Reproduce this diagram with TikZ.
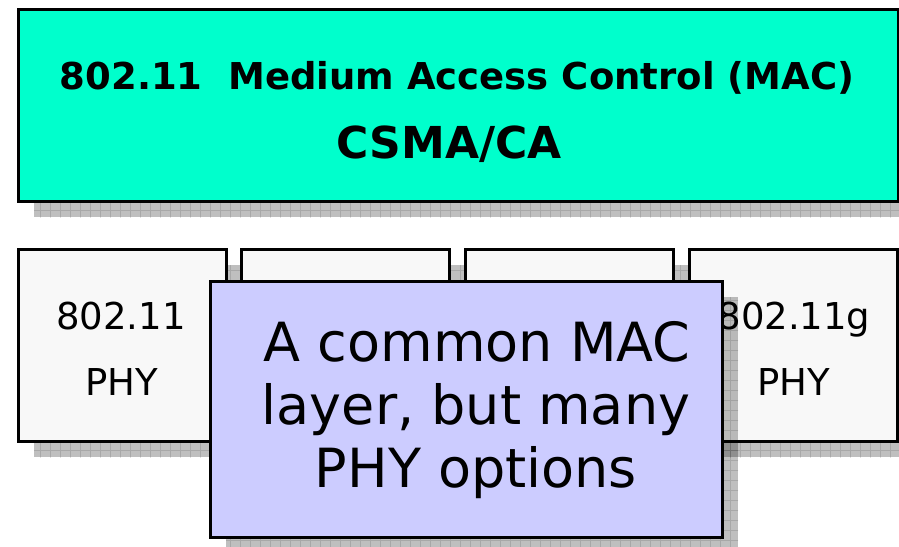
\documentclass[tikz,border=0pt]{standalone}
\usepackage{fontspec}
\setmainfont{DejaVu Sans}
\usetikzlibrary{calc}
\definecolor{macfill}{HTML}{00FFCC}
\definecolor{phyfill}{HTML}{F8F8F8}
\definecolor{notefill}{HTML}{CCCCFF}
\tikzset{
  box/.style={draw=black, line width=3pt, anchor=north west, inner sep=0pt, outer sep=0pt},
  phybox/.style={box, fill=phyfill, minimum width=208pt, minimum height=192pt},
  lbl/.style={anchor=base, inner sep=0pt},
}
% drop shadow with a fine grid texture, offset 16 right and 16 down
\newcommand{\gridshadow}[1]{%
  \begin{scope}
    \path[fill=black, fill opacity=0.25]
      ($(#1.north west)+(16,16)$) rectangle ($(#1.south east)+(16,16)$);
    \clip ($(#1.north west)+(16,16)$) rectangle ($(#1.south east)+(16,16)$);
    \draw[black, opacity=0.12, line width=0.8pt, step=10pt]
      ($(#1.north west)+(6,6)$) grid ($(#1.south east)+(26,26)$);
  \end{scope}}
\begin{document}
\begin{tikzpicture}[x=1pt, y=-1pt]
\useasboundingbox (0,0) rectangle (899,546);
\clip (0,0) rectangle (899,546);

% MAC layer
\path (18,9) node[box, minimum width=880pt, minimum height=192pt, draw=none] (mac) {};
\gridshadow{mac}
\node[box, fill=macfill, minimum width=880pt, minimum height=192pt] at (18,9) (macbox) {};
\node[lbl, font=\bfseries\fontsize{37}{44}\selectfont] (t1) at (457,89) {802.11\ \ Medium Access Control (MAC)};
\node[lbl, font=\bfseries\fontsize{44}{52}\selectfont] (t2) at (449,158) {CSMA/CA};

% PHY layers
\foreach \n/\x in {p1/18, p2/241, p3/465, p4/689} {
  \path (\x,249) node[phybox, draw=none, fill=none] (\n) {};
  \gridshadow{\n}
  \node[phybox] at (\x,249) (\n box) {};
}
\node[lbl, font=\fontsize{37}{44}\selectfont] (p1a) at (121,329) {802.11};
\node[lbl, font=\fontsize{37}{44}\selectfont] (p1b) at (122,395) {PHY};
\node[lbl, font=\fontsize{37}{44}\selectfont] (p4a) at (794,329) {802.11g};
\node[lbl, font=\fontsize{37}{44}\selectfont] (p4b) at (794,395) {PHY};

% callout
\path (210,281) node[box, draw=none, minimum width=512pt, minimum height=256pt] (note) {};
\gridshadow{note}
\node[box, fill=notefill, minimum width=512pt, minimum height=256pt] at (210,281) (notebox) {};
\node[lbl, font=\fontsize{54}{63}\selectfont] (n1) at (477,361) {A common MAC};
\node[lbl, font=\fontsize{54}{63}\selectfont] (n2) at (476,424) {layer, but many};
\node[lbl, font=\fontsize{54}{63}\selectfont] (n3) at (476,487) {PHY options};
\end{tikzpicture}
\end{document}
